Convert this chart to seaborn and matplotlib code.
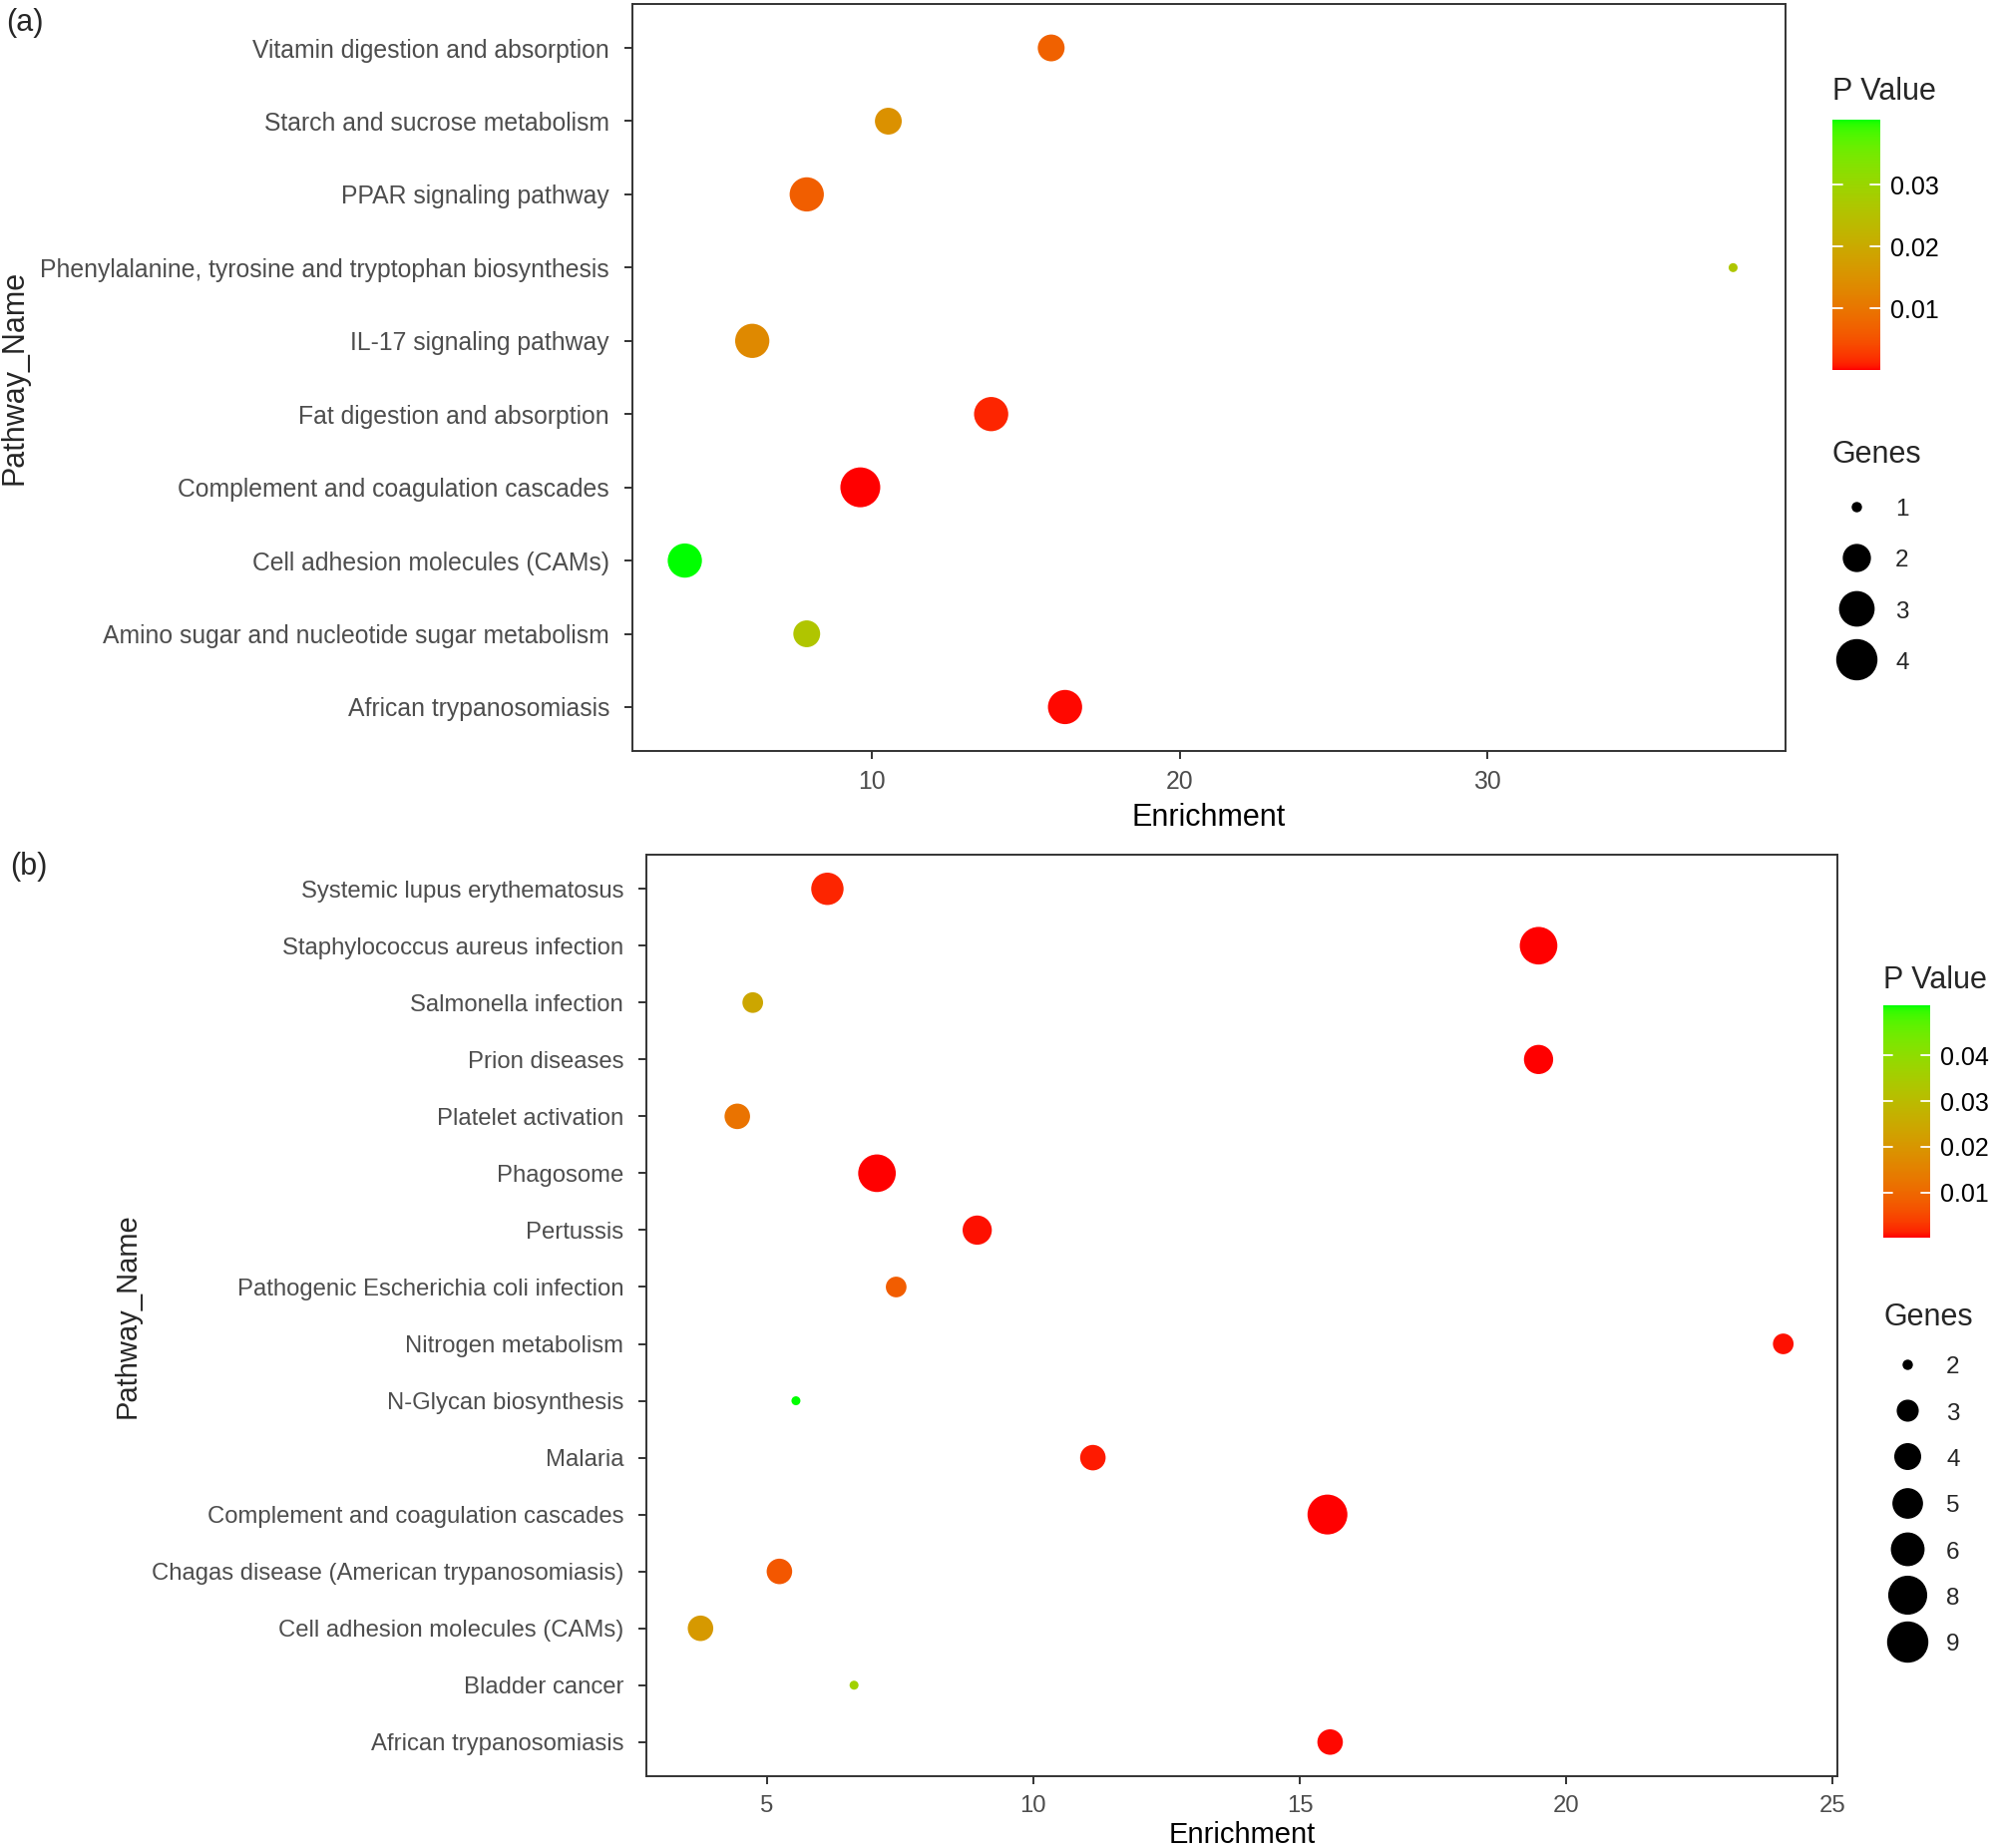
import numpy as np
import pandas as pd
import matplotlib
matplotlib.use("Agg")
import matplotlib.pyplot as plt
import seaborn as sns
from matplotlib.colors import ListedColormap, Normalize
from matplotlib.cm import ScalarMappable
from matplotlib.lines import Line2D

# ---- panel (a), listed top to bottom ----
pathways_a = [
    "Vitamin digestion and absorption",
    "Starch and sucrose metabolism",
    "PPAR signaling pathway",
    "Phenylalanine, tyrosine and tryptophan biosynthesis",
    "IL-17 signaling pathway",
    "Fat digestion and absorption",
    "Complement and coagulation cascades",
    "Cell adhesion molecules (CAMs)",
    "Amino sugar and nucleotide sugar metabolism",
    "African trypanosomiasis",
]
enrichment_a = [15.83, 10.54, 7.89, 37.98, 6.12, 13.88, 9.63, 3.93, 7.89, 16.28]
genes_a = [2, 2, 3, 1, 3, 3, 4, 3, 2, 3]
pvalue_a = [0.0069, 0.0150, 0.0066, 0.0263, 0.0134, 0.0013, 0.0001, 0.0405, 0.0260, 0.0003]

# ---- panel (b), listed top to bottom ----
pathways_b = [
    "Systemic lupus erythematosus",
    "Staphylococcus aureus infection",
    "Salmonella infection",
    "Prion diseases",
    "Platelet activation",
    "Phagosome",
    "Pertussis",
    "Pathogenic Escherichia coli infection",
    "Nitrogen metabolism",
    "N-Glycan biosynthesis",
    "Malaria",
    "Complement and coagulation cascades",
    "Chagas disease (American trypanosomiasis)",
    "Cell adhesion molecules (CAMs)",
    "Bladder cancer",
    "African trypanosomiasis",
]
enrichment_b = [6.14, 19.48, 4.74, 19.48, 4.45, 7.07, 8.95, 7.43, 24.07, 5.55,
                11.12, 15.52, 5.24, 3.76, 6.64, 15.57]
genes_b = [6, 8, 3, 5, 4, 8, 5, 3, 3, 2, 4, 9, 4, 4, 2, 4]
pvalue_b = [0.0016, 0.0001, 0.0243, 0.0002, 0.0122, 0.0001, 0.0006, 0.0082, 0.0005,
            0.0510, 0.0010, 0.0001, 0.0072, 0.0208, 0.0364, 0.0003]

ticks_p_a = [0.01, 0.02, 0.03]
ticks_p_b = [0.01, 0.02, 0.03, 0.04]

W, H = 2000, 1853
PX = 72 / 100  # points per pixel at dpi 100

# red -> green ramp interpolated in CIE Lab, like ggplot's scale_colour_gradient
M = np.array([[0.4124, 0.3576, 0.1805], [0.2126, 0.7152, 0.0722], [0.0193, 0.1192, 0.9505]])
WHITE = np.array([0.95047, 1.0, 1.08883])


def to_lab(rgb):
    rgb = np.asarray(rgb, float)
    lin = np.where(rgb <= 0.04045, rgb / 12.92, ((rgb + 0.055) / 1.055) ** 2.4)
    xyz = (M @ lin) / WHITE
    f = np.where(xyz > (6 / 29) ** 3, np.cbrt(xyz), xyz / (3 * (6 / 29) ** 2) + 4 / 29)
    return np.array([116 * f[1] - 16, 500 * (f[0] - f[1]), 200 * (f[1] - f[2])])


def from_lab(lab):
    L, a, b = lab.T
    fy = (L + 16) / 116
    f = np.stack([fy + a / 500, fy, fy - b / 200], axis=1)
    xyz = np.where(f > 6 / 29, f ** 3, 3 * (6 / 29) ** 2 * (f - 4 / 29)) * WHITE
    lin = np.clip(xyz @ np.linalg.inv(M).T, 0, 1)
    return np.where(lin <= 0.0031308, 12.92 * lin, 1.055 * lin ** (1 / 2.4) - 0.055)


t = np.linspace(0, 1, 256)[:, None]
lab_ramp = (1 - t) * to_lab([1, 0, 0]) + t * to_lab([0, 1, 0])
red_green = ListedColormap(np.clip(from_lab(lab_ramp), 0, 1))


def size_map(genes):
    lo, hi = min(genes), max(genes)
    out = {}
    for g in sorted(set(genes)):
        d = 9 + 31 * np.sqrt((g - lo) / (hi - lo))
        out[g] = (d * PX) ** 2
    return out


sns.set_theme(style="white")
plt.rcParams["font.family"] = ["Liberation Sans", "DejaVu Sans"]

fig = plt.figure(figsize=(W / 100, H / 100), dpi=100)


def panel(box, names, enrich, genes, pvals, ticks, cbox, ptitle_xy, leg_xy, labelspacing,
          xlabel_y, ylabel_x, xticks, fs_title, fs_ticks):
    ax = fig.add_axes([box[0] / W, 1 - box[3] / H, (box[2] - box[0]) / W, (box[3] - box[1]) / H])
    df = pd.DataFrame({"Pathway_Name": names, "Enrichment": enrich,
                       "Genes": genes, "PValue": pvals})
    norm = Normalize(min(pvals), max(pvals))
    sizes = size_map(genes)
    sns.scatterplot(data=df, x="Enrichment", y="Pathway_Name", hue="PValue", size="Genes",
                    palette=red_green, hue_norm=norm, sizes=sizes, linewidth=0,
                    legend=False, ax=ax)
    span = max(enrich) - min(enrich)
    ax.set_xlim(min(enrich) - 0.05 * span, max(enrich) + 0.05 * span)
    ax.set_ylim(len(names) - 0.4, -0.6)
    ax.set_xticks(xticks)
    for s in ax.spines.values():
        s.set_color("#333333")
        s.set_linewidth(1.4)
    ax.tick_params(axis="both", length=6, width=1.4, color="#333333", labelcolor="#4D4D4D",
                   labelsize=fs_ticks, bottom=True, left=True)
    ax.tick_params(axis="y", pad=10.5)
    ax.tick_params(axis="x", pad=7.5)
    ax.set_xlabel("Enrichment", fontsize=fs_title, color="black")
    ax.xaxis.set_label_coords(0.5, xlabel_y)
    ax.set_ylabel("")
    fig.text(ylabel_x / W, 1 - (box[1] + box[3]) / 2 / H, "Pathway_Name", rotation=90,
             ha="center", va="center", fontsize=fs_title)

    # colour bar legend
    cax = fig.add_axes([cbox[0] / W, 1 - cbox[3] / H, (cbox[2] - cbox[0]) / W,
                        (cbox[3] - cbox[1]) / H])
    cb = fig.colorbar(ScalarMappable(norm=norm, cmap=red_green), cax=cax, ticks=ticks)
    cb.outline.set_visible(False)
    cax.tick_params(length=0, labelsize=18, pad=7, labelcolor="black")
    cax.set_yticklabels([f"{v:.2f}" for v in ticks])
    for v in ticks:
        cax.axhline(v, xmin=0, xmax=0.2, color="white", lw=1.3)
        cax.axhline(v, xmin=0.8, xmax=1, color="white", lw=1.3)
    fig.text(ptitle_xy[0] / W, 1 - ptitle_xy[1] / H, "P Value", ha="left", va="center",
             fontsize=22)

    # size legend
    handles = [Line2D([], [], ls="", marker="o", color="black",
                      markersize=np.sqrt(sizes[g])) for g in sorted(sizes)]
    ax.legend(handles, [str(g) for g in sorted(sizes)], title="Genes", loc="upper left",
              bbox_to_anchor=(leg_xy[0] / W, 1 - leg_xy[1] / H), bbox_transform=fig.transFigure,
              frameon=False, fontsize=17.5, title_fontsize=22, alignment="left",
              handleheight=1, handlelength=2.0, handletextpad=0.6,
              labelspacing=labelspacing, borderpad=0, borderaxespad=0)
    return ax


panel((634, 4, 1790, 753), pathways_a, enrichment_a, genes_a, pvalue_a, ticks_p_a,
      (1837, 120, 1885, 371), (1837, 92), (1837, 441), 1.11, -0.069, 15, [10, 20, 30], 22,
      17.8)
panel((648, 857, 1842, 1781), pathways_b, enrichment_b, genes_b, pvalue_b, ticks_p_b,
      (1888, 1008, 1935, 1241), (1888, 983), (1888, 1306), 0.91, -0.049, 128,
      [5, 10, 15, 20, 25], 21, 17.2)

fig.text(6 / W, 1 - 23 / H, "(a)", ha="left", va="center", fontsize=22)
fig.text(10 / W, 1 - 869 / H, "(b)", ha="left", va="center", fontsize=22)

fig.savefig("out.png", dpi=100, facecolor="white")
